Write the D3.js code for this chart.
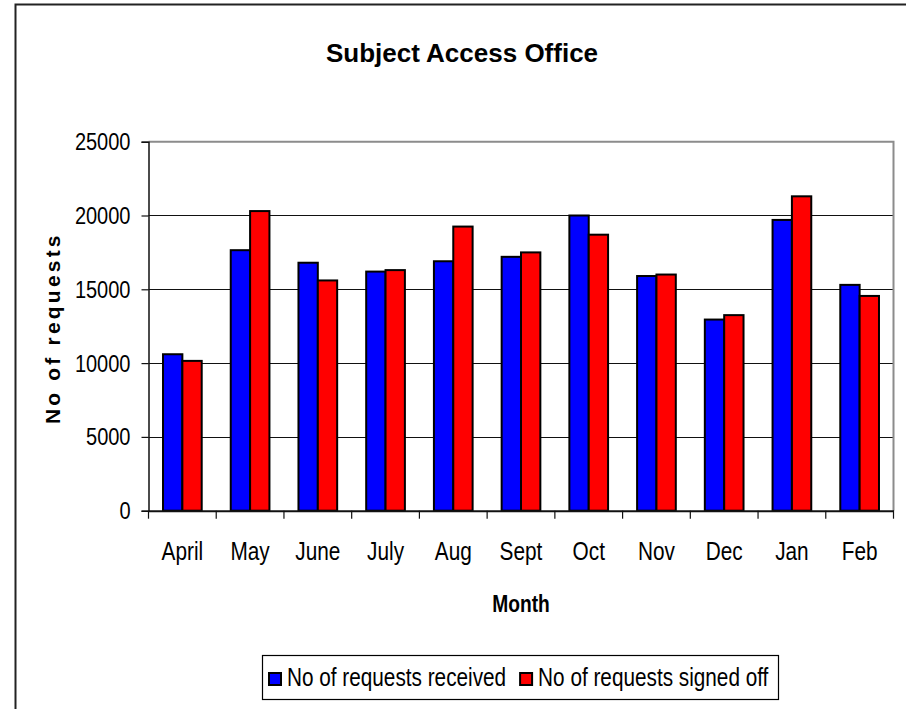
<!DOCTYPE html>
<html>
<head>
<meta charset="utf-8">
<script src="https://cdn.jsdelivr.net/npm/d3@7"></script>
<style>
  body { margin: 0; background: #fff; }
  svg { display: block; }
  text { font-family: "Liberation Sans", Arial, sans-serif; }
</style>
</head>
<body>
<div id="chart"></div>
<script>
// values
const months = ["April", "May", "June", "July", "Aug", "Sept", "Oct", "Nov", "Dec", "Jan", "Feb"];
const received = [10600, 17650, 16800, 16200, 16900, 17200, 20000, 15900, 12950, 19700, 15300];
const signedOff = [10150, 20300, 15600, 16300, 19250, 17500, 18700, 16000, 13250, 21300, 14550];
const seriesNames = ["No of requests received", "No of requests signed off"];
const seriesColors = ["#0000ff", "#ff0000"];
const yTicks = [0, 5000, 10000, 15000, 20000, 25000];

const width = 906, height = 709;
const plot = { left: 148.5, right: 893.5, top: 141.7, bottom: 510.7 };

// no narrow font installed, so squeeze regular text horizontally
function squeeze(sel, x, y, k) {
    sel.attr("x", 0).attr("y", 0).attr("transform", `translate(${x},${y}) scale(${k},1)`);
}

let svg = d3.select("#chart").append("svg").attr("width", width).attr("height", height);

// chart area border (runs off the page on the right and bottom)
svg.append("rect")
    .attr("x", 15.5).attr("y", 4.5)
    .attr("width", 1000).attr("height", 1000)
    .attr("fill", "none").attr("stroke", "#222").attr("stroke-width", 2);

let x0 = d3.scaleBand().domain(months).range([plot.left, plot.right]).padding(0);
let x1 = d3.scaleBand().domain(seriesNames).range([0, x0.bandwidth()]).paddingInner(0).paddingOuter(0.75);
let y = d3.scaleLinear().domain([0, 25000]).range([plot.bottom, plot.top]);

// gridlines
svg.append("g").selectAll("line")
    .data(yTicks.filter(t => t > 0 && t < 25000))
    .enter().append("line")
    .attr("x1", plot.left).attr("x2", plot.right)
    .attr("y1", d => Math.round(y(d)) + 0.5).attr("y2", d => Math.round(y(d)) + 0.5)
    .attr("stroke", "#111").attr("stroke-width", 1.2);

// plot border top / right
svg.append("path")
    .attr("d", `M${plot.left},${y(25000)}H${plot.right}V${plot.bottom}`)
    .attr("fill", "none").attr("stroke", "#8c8c8c").attr("stroke-width", 2);

// bars
let table = months.map((m, i) => ({ month: m, values: [received[i], signedOff[i]] }));
let groups = svg.append("g").selectAll("g")
    .data(table).enter().append("g")
    .attr("transform", d => `translate(${x0(d.month)},0)`);

groups.selectAll("rect")
    .data(d => d.values.map((v, k) => ({ name: seriesNames[k], value: v, k: k })))
    .enter().append("rect")
    .attr("x", d => x1(d.name))
    .attr("width", x1.bandwidth())
    .attr("y", d => y(d.value))
    .attr("height", d => y(0) - y(d.value))
    .attr("fill", d => seriesColors[d.k])
    .attr("stroke", "#000").attr("stroke-width", 2);

// y axis
let yAxis = d3.axisLeft(y).tickValues(yTicks).tickSize(7).tickPadding(11).tickFormat(d3.format("d"));
let gy = svg.append("g").attr("transform", `translate(${plot.left},0)`).call(yAxis);
gy.select(".domain").attr("stroke", "#111").attr("stroke-width", 1.5);
gy.selectAll(".tick line").attr("stroke", "#111").attr("stroke-width", 1.2);
gy.selectAll(".tick text")
    .attr("font-family", null).attr("font-size", 23).attr("fill", "#000").attr("dy", null)
    .call(squeeze, -18, 8, 0.87);

// x axis: ticks sit on the category boundaries
let xAxis = d3.axisBottom(x0).tickSize(0).tickPadding(0);
let gx = svg.append("g").attr("transform", `translate(0,${plot.bottom})`).call(xAxis);
gx.select(".domain").attr("stroke", "#111").attr("stroke-width", 2);
gx.selectAll(".tick text")
    .attr("font-family", null).attr("font-size", 26).attr("fill", "#000").attr("dy", null)
    .call(squeeze, 0, 49.5, 0.8);
let boundaries = months.map(m => x0(m)).concat([plot.right]);
gx.append("g").selectAll("line").data(boundaries).enter().append("line")
    .attr("x1", d => d).attr("x2", d => d)
    .attr("y1", 0).attr("y2", 8)
    .attr("stroke", "#111").attr("stroke-width", 1.2);

// title
svg.append("text")
    .attr("x", 462).attr("y", 62)
    .attr("text-anchor", "middle")
    .attr("font-weight", "bold").attr("font-size", 26)
    .text("Subject Access Office");

// axis titles
svg.append("text")
    .attr("text-anchor", "middle")
    .attr("font-weight", "bold").attr("font-size", 24)
    .text("Month")
    .call(squeeze, (plot.left + plot.right) / 2, 612, 0.8);

svg.append("text")
    .attr("transform", `translate(60,${(plot.top + plot.bottom) / 2 + 2}) rotate(-90)`)
    .attr("text-anchor", "middle")
    .attr("font-weight", "bold").attr("font-size", 21)
    .attr("letter-spacing", 3.2)
    .text("No of requests");

// legend
let legend = svg.append("g");
legend.append("rect")
    .attr("x", 262.5).attr("y", 655.5).attr("width", 516).attr("height", 44)
    .attr("fill", "#fff").attr("stroke", "#000").attr("stroke-width", 1.2);

let lx = 269;
seriesNames.forEach((name, k) => {
    legend.append("rect")
        .attr("x", lx).attr("y", 673).attr("width", 12).attr("height", 12)
        .attr("fill", seriesColors[k]).attr("stroke", "#000").attr("stroke-width", 2);
    let t = legend.append("text")
        .attr("font-size", 25)
        .text(name)
        .call(squeeze, lx + 18, 685.5, 0.83);
    lx = lx + 18 + t.node().getComputedTextLength() * 0.83 + 14;
});
</script>
</body>
</html>
